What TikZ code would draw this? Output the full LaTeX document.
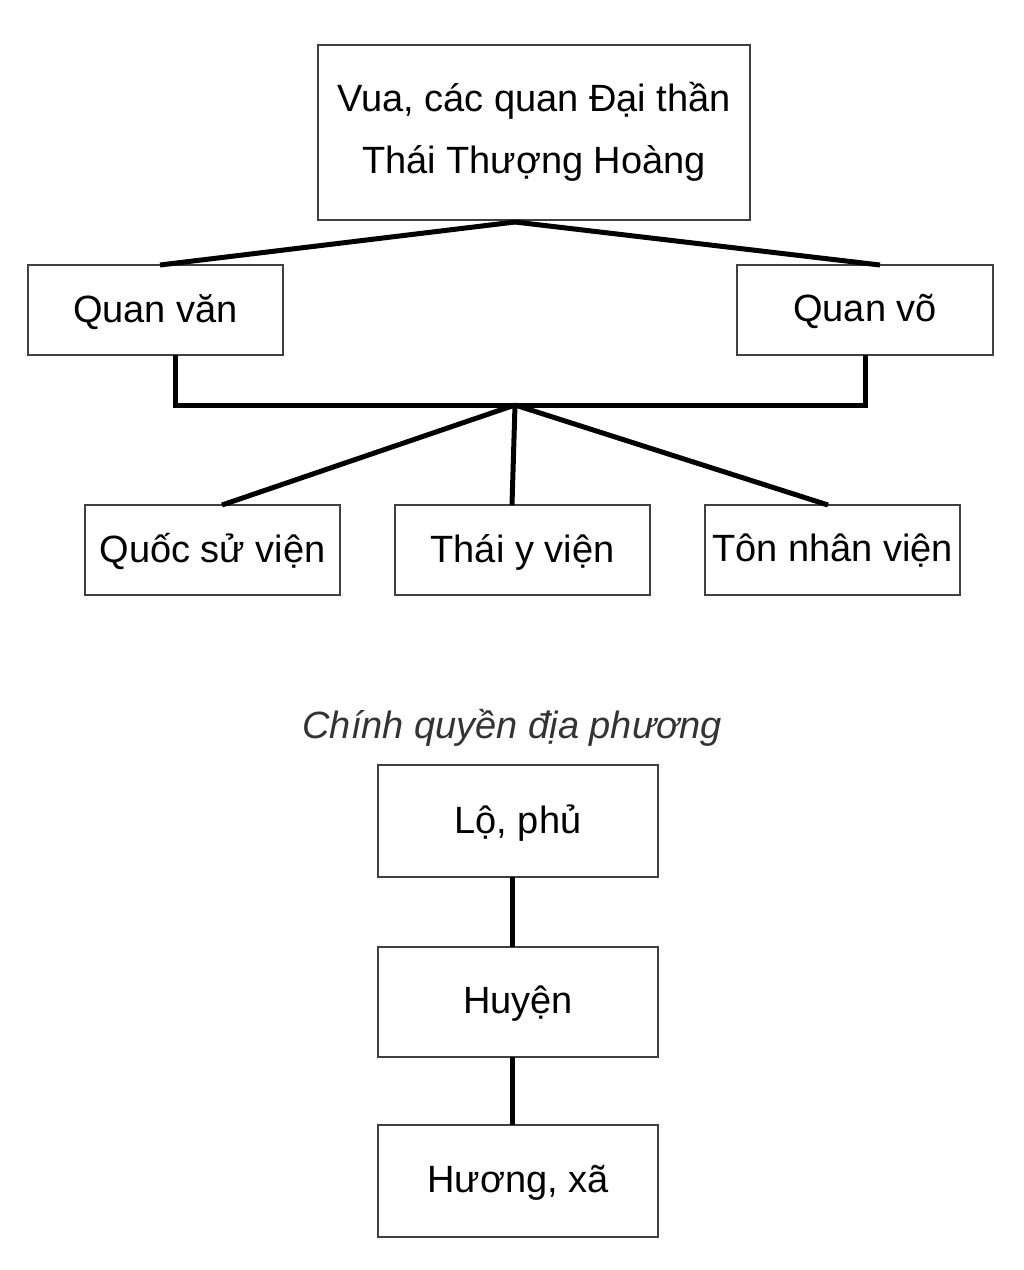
\documentclass[tikz,border=0pt]{standalone}
\usepackage{fontspec}
\setmainfont{Liberation Sans}
\begin{document}
\begin{tikzpicture}[x=1pt,y=-1pt,
  bx/.style={draw=black!75,line width=2pt,inner sep=0pt,font=\fontsize{38}{62}\selectfont,align=center},
  ln/.style={line width=5pt,black}]
\useasboundingbox (0,0) rectangle (1024,1270);
\node[bx,minimum width=432pt,minimum height=175pt] (top) at (534,132) {Vua, các quan Đại thần\\Thái Thượng Hoàng};
\node[bx,minimum width=255pt,minimum height=90pt,text depth=4pt] (van) at (155.5,310) {Quan văn};
\node[bx,minimum width=256pt,minimum height=90pt,text depth=4pt] (vo) at (865,310) {Quan võ};
\node[bx,minimum width=255pt,minimum height=90pt,text depth=4pt] (qs) at (212.5,550) {Quốc sử viện};
\node[bx,minimum width=255pt,minimum height=90pt,text depth=4pt] (ty) at (522.5,550) {Thái y viện};
\node[bx,minimum width=255pt,minimum height=90pt,text depth=4pt] (tn) at (832.5,550) {Tôn nhân viện};
\node[font=\fontsize{38}{46}\selectfont\itshape,text=black!80] (title) at (512,728) {Chính quyền địa phương};
\node[bx,minimum width=280pt,minimum height=112pt,text depth=4pt] (lo) at (518,821) {Lộ, phủ};
\node[bx,minimum width=280pt,minimum height=110pt,text depth=4pt] (hu) at (518,1002) {Huyện};
\node[bx,minimum width=280pt,minimum height=112pt,text depth=4pt] (hx) at (518,1181) {Hương, xã};
\coordinate (tb) at (515,222);
\coordinate (hub) at (515,405);
\draw[ln] (tb) -- (160,265);
\draw[ln] (tb) -- (880,265);
\draw[ln] (175,355) |- (hub) -| (865,355);
\draw[ln] (hub) -- (222,505);
\draw[ln] (hub) -- (512,505);
\draw[ln] (hub) -- (828,505);
\draw[ln] (512,877) -- (512,947);
\draw[ln] (512,1057) -- (512,1125);
\end{tikzpicture}
\end{document}
